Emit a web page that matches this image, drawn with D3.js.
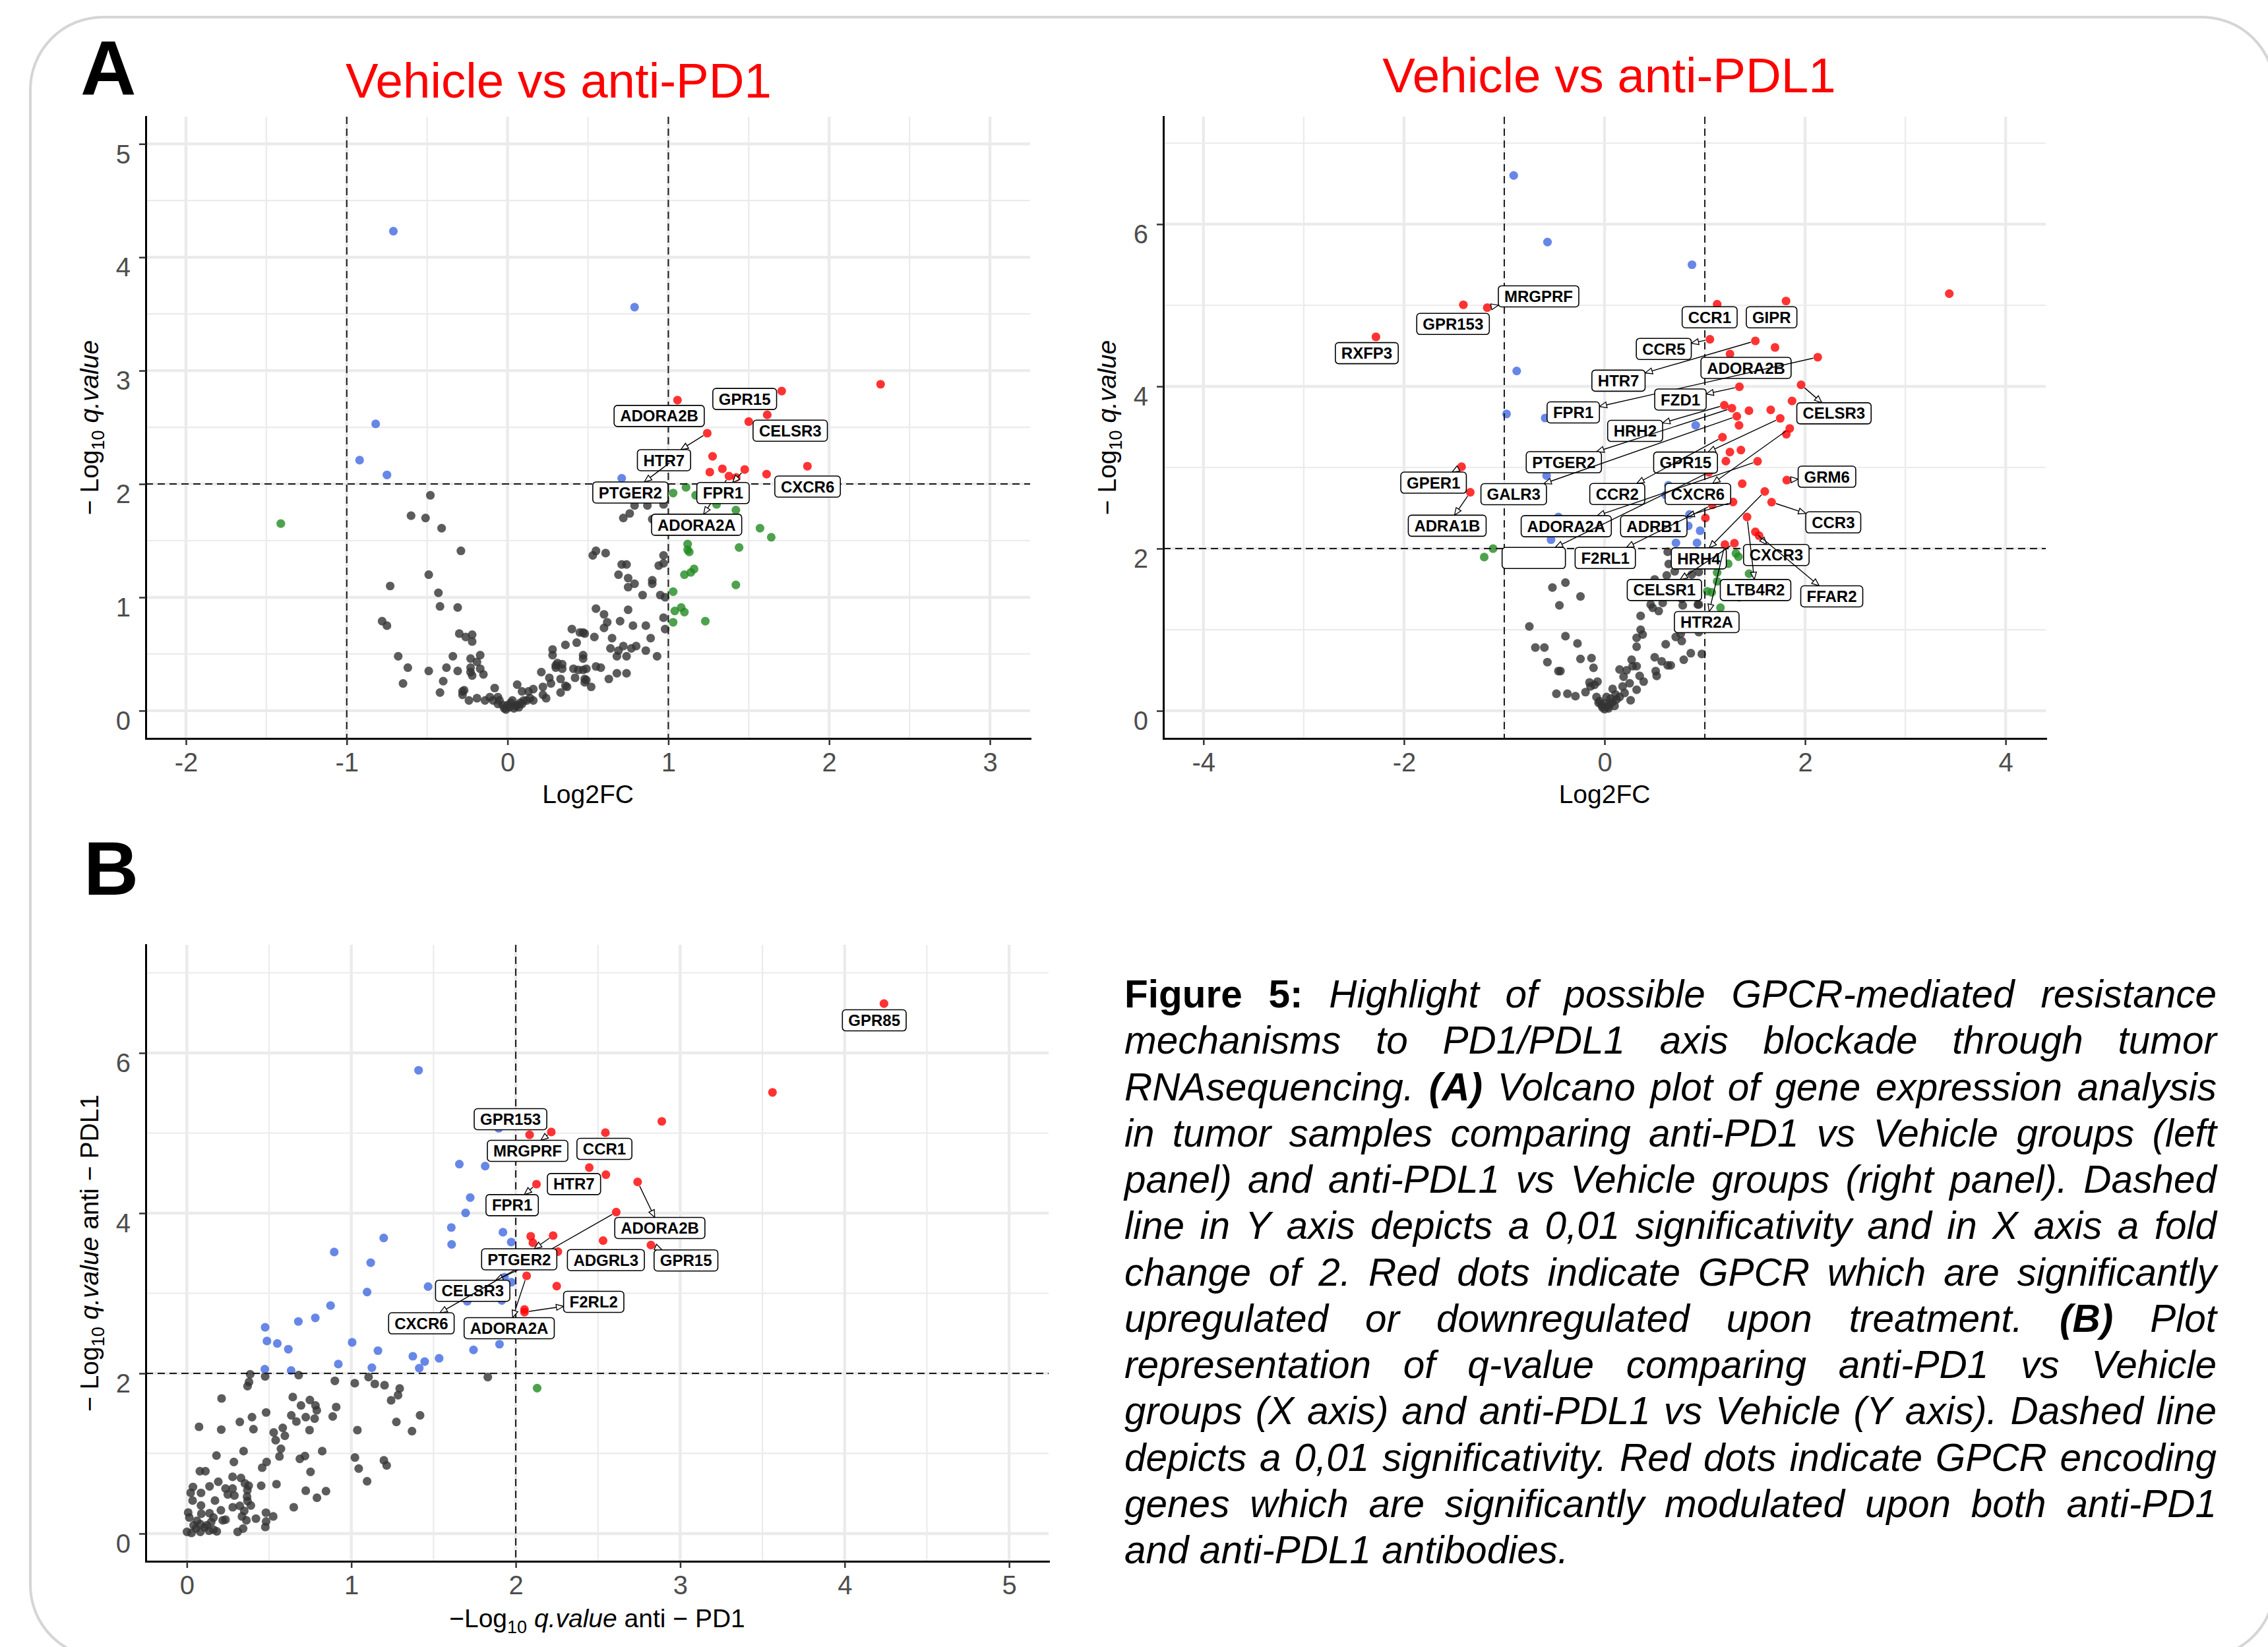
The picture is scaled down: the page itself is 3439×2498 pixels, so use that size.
<!DOCTYPE html>
<html><head><meta charset="utf-8">
<script src="https://cdn.jsdelivr.net/npm/d3@7"></script>
<style>body{margin:0;background:#fff}svg{display:block}</style>
</head><body>
<svg id="fig" width="3439" height="2498"></svg>
<script>
// ---------------- DATA ----------------
// Panel A left: Vehicle vs anti-PD1  [log2FC, -log10 q]
const pd1Grey = [[-0.48,1.90],[-0.60,1.72],[-0.51,1.70],[-0.41,1.61],[-0.29,1.41],[-0.49,1.20],[-0.73,1.10],[-0.43,1.04],[-0.42,0.92],[-0.31,0.91],[-0.78,0.79],[-0.75,0.75],[-0.30,0.68],[-0.26,0.65],[-0.22,0.67],[-0.22,0.61],[-0.68,0.48],[-0.62,0.38],[-0.65,0.24],[-0.49,0.35],[-0.42,0.16],[-0.40,0.26],[-0.38,0.38],[-0.34,0.48],[-0.31,0.35],[-0.23,0.46],[-0.19,0.43],[-0.17,0.49],[-0.23,0.38],[-0.23,0.34],[-0.17,0.37],[-0.15,0.32],[-0.22,0.31],[-0.28,0.17],[-0.27,0.18],[-0.28,0.14],[-0.24,0.09],[-0.19,0.11],[-0.14,0.09],[-0.08,0.20],[-0.11,0.12],[-0.09,0.09],[-0.06,0.06],[-0.06,0.12],[-0.05,0.09],[-0.03,0.05],[-0.01,0.01],[0.01,0.03],[0.02,0.07],[0.03,0.09],[0.06,0.23],[0.06,0.05],[0.08,0.07],[0.09,0.06],[0.10,0.09],[0.12,0.09],[0.09,0.17],[0.13,0.17],[0.16,0.19],[0.16,0.09],[0.14,0.11],[0.21,0.34],[0.22,0.21],[0.22,0.14],[0.24,0.11],[0.26,0.29],[0.27,0.24],[0.28,0.54],[0.28,0.49],[0.30,0.40],[0.31,0.42],[0.34,0.41],[0.30,0.38],[0.34,0.37],[0.33,0.28],[0.33,0.16],[0.36,0.22],[0.37,0.21],[0.36,0.58],[0.40,0.72],[0.43,0.60],[0.45,0.69],[0.47,0.69],[0.48,0.68],[0.41,0.37],[0.42,0.29],[0.44,0.36],[0.47,0.36],[0.47,0.49],[0.47,0.46],[0.48,0.28],[0.49,0.27],[0.48,0.25],[0.49,0.37],[0.52,0.21],[0.55,0.39],[0.58,0.38],[0.54,0.65],[0.55,0.90],[0.60,0.85],[0.62,0.78],[0.60,0.73],[0.65,0.64],[0.63,0.28],[0.64,0.55],[0.68,0.48],[0.68,0.33],[0.74,0.33],[0.74,0.48],[0.69,0.53],[0.72,0.57],[0.77,0.55],[0.80,0.57],[0.86,0.53],[0.93,0.48],[0.89,0.64],[0.78,0.75],[0.86,0.75],[0.70,0.79],[0.75,0.89],[0.97,0.82],[0.98,0.72],[0.95,1.02],[0.98,1.00],[0.84,1.02],[0.75,1.09],[0.79,1.12],[0.75,1.17],[0.69,1.20],[0.90,1.15],[0.90,1.12],[0.94,1.28],[0.97,1.30],[0.97,1.37],[0.71,1.29],[0.74,1.29],[0.53,1.37],[0.55,1.41],[0.61,1.39],[0.72,1.70],[0.76,1.74],[0.79,1.81],[0.87,1.81],[0.97,1.82],[0.90,1.69],[-0.02,0.02],[0.04,0.02],[0.05,0.04],[0.07,0.03],[0.00,0.05]];
const pd1Blue = [[-0.71,4.23],[0.79,3.56],[-0.82,2.53],[-0.92,2.21],[-0.75,2.08],[0.71,2.05]];
const pd1Green = [[-1.41,1.65],[1.03,1.92],[1.11,1.97],[1.17,1.90],[1.30,1.82],[1.42,1.77],[1.57,1.61],[1.64,1.53],[1.12,1.47],[1.12,1.42],[1.13,1.40],[1.44,1.44],[1.10,1.20],[1.14,1.22],[1.16,1.25],[1.42,1.11],[1.03,1.05],[1.04,0.88],[1.08,0.91],[1.10,0.87],[1.03,0.78],[1.23,0.79]];
const pd1Red = [[2.32,2.88,""],[1.705,2.82,"GPR15"],[1.057,2.74,"ADORA2B"],[1.615,2.61,"CELSR3"],[1.50,2.55,""],[1.242,2.448,"HTR7"],[1.275,2.244,""],[1.865,2.157,"CXCR6"],[1.336,2.134,""],[1.258,2.105,""],[1.475,2.128,"FPR1"],[1.611,2.087,""],[1.377,2.07,"ADORA2A"],[1.422,2.058,""],[1.03,2.21,"PTGER2"]];

// Panel A right: Vehicle vs anti-PDL1
const pdl1Grey = [[0.63,1.96],[0.64,1.81],[0.70,1.72],[0.87,1.68],[0.50,1.62],[-0.39,1.58],[-0.52,1.52],[-0.24,1.41],[-0.45,1.30],[0.46,1.31],[0.48,1.27],[0.54,1.23],[0.58,1.33],[0.78,1.30],[0.93,1.31],[0.36,1.17],[-0.75,1.04],[-0.39,0.92],[-0.69,0.78],[-0.60,0.78],[-0.27,0.83],[0.36,1.00],[0.38,0.94],[0.32,0.90],[0.32,0.79],[0.61,0.82],[0.71,0.91],[0.77,0.86],[0.76,0.95],[0.94,0.97],[0.86,0.71],[0.97,0.70],[0.79,0.63],[-0.57,0.60],[-0.46,0.49],[-0.44,0.49],[-0.24,0.64],[-0.13,0.65],[-0.11,0.53],[-0.48,0.21],[-0.37,0.21],[-0.29,0.18],[-0.19,0.23],[-0.15,0.35],[-0.07,0.36],[-0.10,0.32],[-0.14,0.30],[-0.08,0.17],[-0.05,0.12],[-0.03,0.07],[0.00,0.02],[0.03,0.05],[0.05,0.08],[0.08,0.11],[0.12,0.14],[0.15,0.17],[0.08,0.27],[0.15,0.51],[0.22,0.50],[0.19,0.42],[0.25,0.34],[0.27,0.63],[0.28,0.55],[0.32,0.55],[0.35,0.43],[0.39,0.36],[0.32,0.26],[0.26,0.13],[0.18,0.30],[0.50,0.66],[0.51,0.49],[0.52,0.43],[0.57,0.61],[0.63,0.56],[0.66,0.56],[0.02,0.17],[0.00,0.09],[0.06,0.15],[0.94,1.71],[0.62,1.67],[0.92,1.47],[0.77,1.38],[0.94,1.31],[-0.02,0.04],[0.04,0.03],[0.10,0.06],[-0.06,0.10],[0.11,0.20],[0.20,0.22]];
const pdl1Blue = [[-0.906,6.60],[-0.569,5.78],[0.872,5.50],[-0.876,4.19],[-0.977,3.66],[-0.592,3.61],[0.909,3.52],[-0.578,2.90],[0.637,2.78],[0.61,2.66],[-0.46,2.39],[0.847,2.42],[0.835,2.28],[0.953,2.22],[-0.534,2.11],[0.712,2.07],[0.922,2.07]];
const pdl1Green = [[-1.112,2.00],[-1.20,1.895],[1.31,1.94],[1.335,1.90],[1.233,1.813],[1.123,1.705],[1.123,1.596],[1.025,1.474],[1.069,1.461],[1.156,1.271],[1.441,1.691],[1.342,1.40]];
const pdl1Red = [[3.438,5.143,""],[1.81,5.053,"GIPR"],[1.123,5.013,"CCR1"],[-1.408,5.006,"GPR153"],[-1.17,4.97,"MRGPRF"],[-2.28,4.61,"RXFP3"],[1.051,4.58,"CCR5"],[1.504,4.561,"HTR7"],[1.70,4.48,""],[1.251,4.40,"ADORA2B"],[2.126,4.36,"FPR1"],[1.96,4.02,"CELSR3"],[1.345,3.995,"FZD1"],[1.87,3.82,""],[1.194,3.768,"HRH2"],[1.27,3.731,"PTGER2"],[1.44,3.70,""],[1.657,3.71,""],[1.319,3.631,"GALR3"],[1.752,3.606,"GPR15"],[1.341,3.52,""],[1.847,3.482,"CXCR6"],[1.813,3.41,""],[1.176,3.373,"CCR2"],[1.36,3.215,""],[1.25,3.19,""],[1.21,3.078,""],[1.526,3.077,"ADORA2A"],[-1.426,3.009,"GPER1"],[1.04,2.94,"BLANK"],[1.817,2.844,"GRM6"],[1.373,2.80,""],[-1.339,2.694,"ADRA1B"],[1.598,2.704,"HRH4"],[1.281,2.575,"ADRB1"],[1.666,2.573,"CCR3"],[1.074,2.539,"F2RL1"],[1.421,2.39,"LTB4R2"],[1.006,2.377,""],[1.504,2.206,"CXCR3"],[1.541,2.159,"FFAR2"],[1.295,2.066,"CELSR1"],[1.2,2.05,"HTR2A"]];

// Panel B: -log10 q anti-PD1 (x) vs anti-PDL1 (y)
const qGrey = [[0.385,1.989],[0.378,1.893],[0.369,1.841],[0.476,1.962],[0.680,1.978],[0.90,1.907],[1.021,1.877],[1.105,1.953],[1.143,1.868],[1.202,1.852],[1.294,1.811],[1.284,1.728],[1.242,1.663],[0.211,1.687],[0.644,1.704],[0.748,1.668],[0.694,1.599],[0.782,1.599],[0.79,1.539],[0.908,1.58],[0.887,1.462],[0.482,1.512],[0.396,1.454],[0.635,1.476],[0.723,1.454],[0.777,1.435],[0.666,1.399],[0.322,1.394],[1.418,1.476],[1.274,1.394],[1.369,1.278],[1.037,1.292],[0.074,1.333],[0.209,1.298],[0.405,1.303],[0.746,1.292],[0.528,1.262],[0.583,1.320],[0.596,1.221],[0.54,1.166],[0.572,1.059],[0.563,0.963],[0.823,1.029],[0.718,0.968],[0.687,0.933],[1.022,0.949],[1.045,0.812],[1.198,0.914],[1.215,0.85],[1.096,0.653],[0.752,0.771],[0.485,0.894],[0.458,0.823],[0.345,1.029],[0.180,0.974],[0.286,0.894],[0.079,0.779],[0.113,0.779],[0.278,0.708],[0.329,0.694],[0.191,0.647],[0.138,0.590],[0.037,0.582],[0.086,0.508],[0.023,0.510],[0.235,0.562],[0.278,0.562],[0.353,0.626],[0.376,0.598],[0.368,0.543],[0.452,0.598],[0.545,0.617],[0.289,0.475],[0.249,0.488],[0.366,0.461],[0.369,0.406],[0.389,0.351],[0.322,0.346],[0.279,0.329],[0.171,0.412],[0.035,0.412],[0.086,0.351],[0.207,0.291],[0.349,0.283],[0.723,0.535],[0.846,0.529],[0.791,0.447],[0.65,0.329],[0.481,0.261],[0.525,0.214],[0.482,0.151],[0.477,0.082],[0.42,0.187],[0.362,0.165],[0.342,0.063],[0.309,0.022],[0.235,0.173],[0.218,0.165],[0.335,0.214],[0.162,0.200],[0.138,0.255],[0.088,0.247],[0.008,0.263],[0.015,0.20],[0.001,0.022],[0.028,0.008],[0.055,0.063],[0.082,0.022],[0.108,0.077],[0.135,0.036],[0.162,0.049],[0.182,0.027],[0.041,0.104],[0.082,0.118],[0.122,0.104],[0.148,0.145],[0.061,0.159],[1.83,1.954]];
const qBlue = [[1.409,5.784],[1.896,5.06],[1.657,4.612],[1.814,4.587],[1.723,4.195],[1.695,4.003],[1.197,3.69],[1.608,3.821],[1.61,3.61],[1.922,3.762],[1.972,3.639],[0.896,3.515],[1.118,3.382],[1.931,3.2],[1.973,3.138],[1.467,3.083],[1.096,3.016],[1.705,2.9],[1.915,2.91],[0.874,2.846],[0.781,2.693],[0.678,2.648],[0.476,2.575],[0.487,2.404],[0.55,2.373],[0.617,2.302],[1.005,2.387],[1.162,2.284],[1.374,2.214],[1.446,2.147],[1.534,2.188],[1.743,2.293],[1.901,2.364],[0.921,2.116],[1.125,2.071],[1.413,2.065],[0.474,2.052],[0.634,2.036]];
const qGreen = [[2.13,1.816]];
const qRed = [[4.239,6.616,"GPR85"],[3.561,5.508,""],[2.888,5.146,""],[2.545,5.005,"CCR1"],[2.216,5.013,"MRGPRF"],[2.084,4.979,"GPR153"],[2.447,4.569,"HTR7"],[2.548,4.48,""],[2.741,4.39,"ADORA2B"],[2.126,4.362,"FPR1"],[2.611,4.014,"CXCR6"],[2.091,3.712,""],[2.227,3.72,"PTGER2"],[2.104,3.63,""],[2.531,3.657,"ADGRL3"],[2.822,3.602,"GPR15"],[2.256,3.52,"CELSR3"],[2.066,3.218,"ADORA2A"],[2.249,3.089,""],[2.053,2.798,""],[2.053,2.765,"F2RL2"]];

// tick values
const pd1XTicks = [-2,-1,0,1,2,3], pd1YTicks = [0,1,2,3,4,5];
const pdl1XTicks = [-4,-2,0,2,4], pdl1YTicks = [0,2,4,6];
const qXTicks = [0,1,2,3,4,5], qYTicks = [0,2,4,6];

// ---------------- LAYOUT (label placement in data units) ----------------
const pd1LabelPos = [["GPR15",1.475,2.75],["CELSR3",1.758,2.47],["CXCR6",1.866,1.977],["ADORA2B",0.943,2.60],["HTR7",0.973,2.21],["PTGER2",0.764,1.925],["ADORA2A",1.176,1.64],["FPR1",1.34,1.92]];
const pdl1LabelPos = [["RXFP3",-2.371,4.41],["GPR153",-1.511,4.77],["MRGPRF",-0.658,5.11],["CCR1",1.048,4.852],["GIPR",1.666,4.852],["CCR5",0.591,4.462],["ADORA2B",1.411,4.228],["HTR7",0.139,4.07],["FPR1",-0.312,3.679],["FZD1",0.757,3.838],["CELSR3",2.288,3.668],["HRH2",0.305,3.451],["PTGER2",-0.406,3.065],["GALR3",-0.906,2.671],["GPR15",0.808,3.06],["CCR2",0.127,2.673],["CXCR6",0.931,2.673],["GRM6",2.218,2.886],["GPER1",-1.705,2.813],["ADRA1B",-1.569,2.282],["ADORA2A",-0.382,2.276],["ADRB1",0.491,2.276],["BLANK",-0.706,1.884],["F2RL1",0.007,1.884],["CCR3",2.281,2.323],["HRH4",0.94,1.879],["CXCR3",1.713,1.921],["LTB4R2",1.506,1.489],["FFAR2",2.266,1.411],["CELSR1",0.597,1.489],["HTR2A",1.019,1.094]];
const qLabelPos = [["GPR85",4.18,6.407],["GPR153",1.968,5.173],["MRGPRF",2.072,4.778],["CCR1",2.539,4.802],["HTR7",2.354,4.363],["FPR1",1.978,4.10],["ADORA2B",2.876,3.815],["ADGRL3",2.548,3.414],["GPR15",3.035,3.41],["CELSR3",1.738,3.031],["CXCR6",1.426,2.625],["PTGER2",2.021,3.424],["ADORA2A",1.96,2.564],["F2RL2",2.474,2.893]];

const captionLines = [
 "§Figure §5: Highlight of possible GPCR-mediated resistance",
 "mechanisms to PD1/PDL1 axis blockade through tumor",
 "RNAsequencing. ¤(A) Volcano plot of gene expression analysis",
 "in tumor samples comparing anti-PD1 vs Vehicle groups (left",
 "panel) and anti-PDL1 vs Vehicle groups (right panel). Dashed",
 "line in Y axis depicts a 0,01 significativity and in X axis a fold",
 "change of 2. Red dots indicate GPCR which are significantly",
 "upregulated or downregulated upon treatment. ¤(B) Plot",
 "representation of q-value comparing anti-PD1 vs Vehicle",
 "groups (X axis) and anti-PDL1 vs Vehicle (Y axis). Dashed line",
 "depicts a 0,01 significativity. Red dots indicate GPCR encoding",
 "genes which are significantly modulated upon both anti-PD1",
 "and anti-PDL1 antibodies."
];

// ---------------- DRAW ----------------
const FONT = "'Liberation Sans', Arial, Helvetica, sans-serif";
const svg = d3.select("#fig");
svg.append("rect").attr("width",3439).attr("height",2498).attr("fill","#fff");
svg.append("rect").attr("x",46).attr("y",26).attr("width",3403).attr("height",2488).attr("rx",110)
  .attr("fill","none").attr("stroke","#D5D5D5").attr("stroke-width",4);

const measurer = svg.append("text").attr("font-family",FONT).attr("visibility","hidden");
function measure(txt, size, weight, style) {
  measurer.attr("font-size",size).attr("font-weight",weight||"normal").attr("font-style",style||"normal").text(txt);
  return measurer.node().getComputedTextLength();
}

const COLORS = {grey:"#333333", blue:"#4169E1", green:"#228B22", red:"#FF0000"};

function drawPanel(p) {
  const g = svg.append("g");
  const b = p.box;
  const x = d3.scaleLinear().domain(p.xdom).range([b.left,b.right]);
  const y = d3.scaleLinear().domain(p.ydom).range([b.bottom,b.top]);
  const grid = g.append("g").attr("stroke","#EBEBEB");
  p.xMinor.forEach(v=>grid.append("line").attr("x1",x(v)).attr("x2",x(v)).attr("y1",b.top).attr("y2",b.bottom).attr("stroke-width",2.2));
  p.yMinor.forEach(v=>grid.append("line").attr("y1",y(v)).attr("y2",y(v)).attr("x1",b.left).attr("x2",b.right).attr("stroke-width",2.2));
  p.xTicks.forEach(v=>grid.append("line").attr("x1",x(v)).attr("x2",x(v)).attr("y1",b.top).attr("y2",b.bottom).attr("stroke-width",4.4));
  p.yTicks.forEach(v=>grid.append("line").attr("y1",y(v)).attr("y2",y(v)).attr("x1",b.left).attr("x2",b.right).attr("stroke-width",4.4));

  const pts = g.append("g");
  [[p.grey,COLORS.grey],[p.blue,COLORS.blue],[p.green,COLORS.green],[p.red,COLORS.red]].forEach(([arr,c])=>{
    pts.selectAll(null).data(arr).enter().append("circle")
      .attr("cx",d=>x(d[0])).attr("cy",d=>y(d[1])).attr("r",6.6)
      .attr("fill",c).attr("fill-opacity",0.8);
  });

  const dash = g.append("g").attr("stroke","#1a1a1a").attr("stroke-width",2).attr("stroke-dasharray","11,7");
  p.vlines.forEach(v=>dash.append("line").attr("x1",x(v)).attr("x2",x(v)).attr("y1",b.top).attr("y2",b.bottom));
  dash.append("line").attr("x1",b.left).attr("x2",b.right).attr("y1",y(p.hline)).attr("y2",y(p.hline));

  // labels
  const lab = g.append("g").attr("font-family",FONT).attr("font-weight","bold").attr("font-size",24);
  p.labels.forEach(([gene,lx,ly])=>{
    const pt = p.red.find(d=>d[2]===gene);
    const txt = gene==="BLANK" ? "" : gene;
    const tw = gene==="BLANK" ? 78 : measure(txt,24,"bold");
    const bw = tw+18, bh = 32;
    const cx = x(lx), cy = y(ly);
    const lg = lab.append("g");
    if (pt) {
      const px = x(pt[0]), py = y(pt[1]);
      const dx = px-cx, dy = py-cy;
      const t = Math.min(dx===0?Infinity:(bw/2)/Math.abs(dx), dy===0?Infinity:(bh/2)/Math.abs(dy));
      if (t < 1) {
        const ex = cx+dx*t, ey = cy+dy*t;
        const L = Math.hypot(px-ex, py-ey);
        if (L > 16) {
          const ux = (ex-px)/L, uy = (ey-py)/L;
          const sx = px+ux*7, sy = py+uy*7;
          lg.append("line").attr("x1",sx).attr("y1",sy).attr("x2",ex).attr("y2",ey)
            .attr("stroke","#000").attr("stroke-width",1.4);
          const al = 11, aw = 4.5;
          const bx = ex-ux*al, by = ey-uy*al;
          lg.append("path").attr("d",`M${ex},${ey}L${bx-uy*aw},${by+ux*aw}L${bx+uy*aw},${by-ux*aw}Z`)
            .attr("fill","#fff").attr("stroke","#000").attr("stroke-width",1.3);
        }
      }
    }
    lg.append("rect").attr("x",cx-bw/2).attr("y",cy-bh/2).attr("width",bw).attr("height",bh).attr("rx",5)
      .attr("fill","#fff").attr("stroke","#000").attr("stroke-width",1.6);
    lg.append("text").attr("x",cx).attr("y",cy+8.6).attr("text-anchor","middle").attr("fill","#000").text(txt);
  });

  // axes
  const xa = g.append("g").attr("transform",`translate(0,${b.bottom})`)
    .call(d3.axisBottom(x).tickValues(p.xTicks).tickFormat(d=>String(d)).tickSize(10).tickSizeOuter(0).tickPadding(12));
  const ya = g.append("g").attr("transform",`translate(${b.left},0)`)
    .call(d3.axisLeft(y).tickValues(p.yTicks).tickFormat(d=>String(d)).tickSize(10).tickSizeOuter(0).tickPadding(13));
  [xa,ya].forEach(a=>{
    a.attr("font-family",FONT).attr("font-size",40);
    a.select(".domain").attr("stroke","#000").attr("stroke-width",3).attr("stroke-linecap","square");
    a.selectAll(".tick line").attr("stroke","#333").attr("stroke-width",2.5);
    a.selectAll(".tick text").attr("fill","#4D4D4D");
  });
  ya.selectAll(".tick text").attr("dy","0.72em");

  // axis titles
  const xt = g.append("text").attr("x",(b.left+b.right)/2).attr("y",p.xTitleY).attr("text-anchor","middle")
    .attr("font-family",FONT).attr("font-size",39).attr("fill","#000");
  p.xTitle(xt);
  const yt = g.append("text").attr("transform",`translate(${p.yTitleX},${(b.top+b.bottom)/2}) rotate(-90)`)
    .attr("text-anchor","middle").attr("font-family",FONT).attr("font-size",39).attr("fill","#000");
  p.yTitle(yt);
}

function qTitle(pre, post) {
  return sel => {
    sel.append("tspan").text(pre);
    sel.append("tspan").attr("font-size",27).attr("dy",9).text("10");
    sel.append("tspan").attr("dy",-9).text(" ");
    sel.append("tspan").attr("font-style","italic").text("q.value");
    if (post) sel.append("tspan").text(post);
  };
}
const plain = s => sel => sel.text(s);

drawPanel({box:{left:221,right:1562,top:177,bottom:1120}, xdom:[-2.25,3.25], ydom:[-0.245,5.24],
  xTicks:pd1XTicks, yTicks:pd1YTicks, xMinor:[-1.5,-0.5,0.5,1.5,2.5], yMinor:[0.5,1.5,2.5,3.5,4.5],
  vlines:[-1,1], hline:2, grey:pd1Grey, blue:pd1Blue, green:pd1Green, red:pd1Red, labels:pd1LabelPos,
  xTitle:plain("Log2FC"), xTitleY:1218, yTitle:qTitle("\u2212 Log"), yTitleX:149});

drawPanel({box:{left:1764,right:3102,top:177,bottom:1120}, xdom:[-4.4,4.4], ydom:[-0.341,7.325],
  xTicks:pdl1XTicks, yTicks:pdl1YTicks, xMinor:[-3,-1,1,3], yMinor:[1,3,5,7],
  vlines:[-1,1], hline:2, grey:pdl1Grey, blue:pdl1Blue, green:pdl1Green, red:pdl1Red, labels:pdl1LabelPos,
  xTitle:plain("Log2FC"), xTitleY:1218, yTitle:qTitle("\u2212 Log"), yTitleX:1692});

drawPanel({box:{left:221,right:1590,top:1433,bottom:2368}, xdom:[-0.25,5.24], ydom:[-0.346,7.35],
  xTicks:qXTicks, yTicks:qYTicks, xMinor:[0.5,1.5,2.5,3.5,4.5], yMinor:[1,3,5,7],
  vlines:[2], hline:2, grey:qGrey, blue:qBlue, green:qGreen, red:qRed, labels:qLabelPos,
  xTitle:qTitle("\u2212Log"," anti \u2212 PD1"), xTitleY:2468, yTitle:qTitle("\u2212 Log"," anti \u2212 PDL1"), yTitleX:149});

// titles & panel letters
svg.append("text").attr("x",847).attr("y",148).attr("text-anchor","middle").attr("font-family",FONT)
  .attr("font-size",74.5).attr("fill","#FF0000").text("Vehicle vs anti-PD1");
svg.append("text").attr("x",2440).attr("y",140).attr("text-anchor","middle").attr("font-family",FONT)
  .attr("font-size",74.5).attr("fill","#FF0000").text("Vehicle vs anti-PDL1");
svg.append("text").attr("x",122).attr("y",144).attr("font-family",FONT).attr("font-weight","bold")
  .attr("font-size",117).attr("fill","#000").text("A");
svg.append("text").attr("x",127).attr("y",1357).attr("font-family",FONT).attr("font-weight","bold")
  .attr("font-size",115).attr("fill","#000").text("B");

// caption (justified)
const CAP = {left:1705, right:3361, top:1528, lh:70.25, size:58.5};
const capG = svg.append("g").attr("font-family",FONT).attr("font-size",CAP.size).attr("fill","#000");
captionLines.forEach((line,i)=>{
  const words = line.split(" ").map(w=>{
    if (w.startsWith("§")) return {t:w.slice(1), w:"bold", s:"normal"};
    if (w.startsWith("¤")) return {t:w.slice(1), w:"bold", s:"italic"};
    return {t:w, w:"normal", s:"italic"};
  });
  words.forEach(o=>o.len = measure(o.t, CAP.size, o.w, o.s));
  const total = d3.sum(words,o=>o.len);
  const last = i===captionLines.length-1;
  const gap = last ? measure("a a",CAP.size,"normal","italic")-measure("aa",CAP.size,"normal","italic")
                   : (CAP.right-CAP.left-total)/(words.length-1);
  let xx = CAP.left;
  const yy = CAP.top + i*CAP.lh;
  words.forEach(o=>{
    capG.append("text").attr("x",xx).attr("y",yy).attr("font-weight",o.w).attr("font-style",o.s).text(o.t);
    xx += o.len + gap;
  });
});
measurer.remove();
</script>
</body></html>
